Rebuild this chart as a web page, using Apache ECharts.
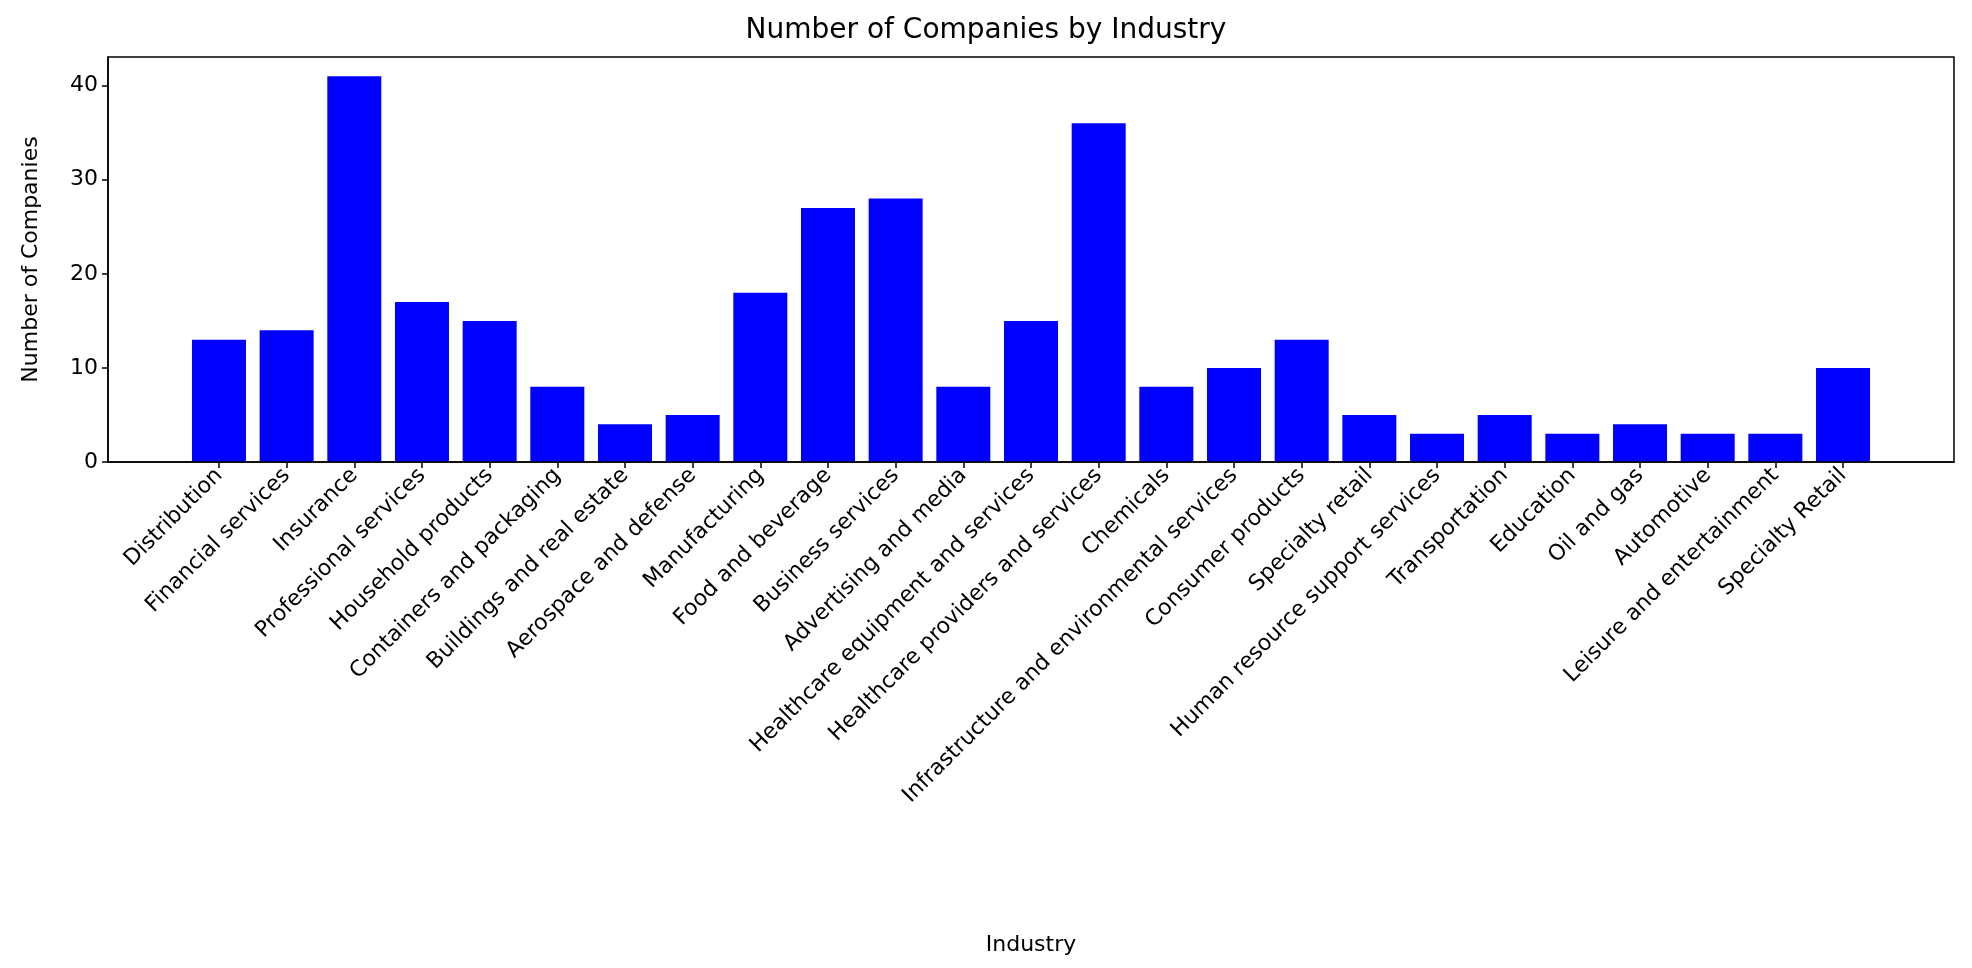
<!DOCTYPE html><html><head><meta charset="utf-8"><script src="https://cdn.jsdelivr.net/npm/echarts@6/dist/echarts.min.js"></script>
<style>html,body{margin:0;background:#fff}#c{width:1972px;height:968px}</style></head><body><div id="c"></div><script>
const categories=["Distribution","Financial services","Insurance","Professional services","Household products","Containers and packaging","Buildings and real estate","Aerospace and defense","Manufacturing","Food and beverage","Business services","Advertising and media","Healthcare equipment and services","Healthcare providers and services","Chemicals","Infrastructure and environmental services","Consumer products","Specialty retail","Human resource support services","Transportation","Education","Oil and gas","Automotive","Leisure and entertainment","Specialty Retail"];
const values=[13,14,41,17,15,8,4,5,18,27,28,8,15,36,8,10,13,5,3,5,3,4,3,3,10];
const yTicks=[0,10,20,30,40];
const F='DejaVu Sans';
const idx=categories.map((_,i)=>i);
const ch=echarts.init(document.getElementById('c'));
ch.setOption({
 animation:false,
 title:{text:'Number of Companies by Industry',left:'center',top:12,textStyle:{fontFamily:F,fontSize:28,fontWeight:'normal',color:'#000'}},
 grid:{left:108,right:18,top:57,bottom:506},
 xAxis:{type:'value',min:-1.64,max:categories.length-1+1.64,splitLine:{show:false},
  axisLine:{onZero:false,lineStyle:{color:'#000',width:1.5}},
  axisTick:{show:true,customValues:idx,length:6,lineStyle:{color:'#000',width:1.5}},
  axisLabel:{customValues:idx,rotate:45,fontFamily:F,fontSize:22,color:'#000',margin:10,formatter:v=>categories[Math.round(v)]},
  name:'Industry',nameLocation:'middle',nameGap:472,nameTextStyle:{fontFamily:F,fontSize:22,color:'#000'}},
 yAxis:{type:'value',min:0,max:43.05,splitLine:{show:false},
  axisLine:{show:true,onZero:false,lineStyle:{color:'#000',width:1.5}},
  axisTick:{show:true,customValues:yTicks,length:6,lineStyle:{color:'#000',width:1.5}},
  axisLabel:{customValues:yTicks,fontFamily:F,fontSize:22,color:'#000',margin:10},
  name:'Number of Companies',nameLocation:'middle',nameGap:66,nameTextStyle:{fontFamily:F,fontSize:22,color:'#000'}},
 series:[{type:'bar',data:values.map((v,i)=>[i,v]),barWidth:54,itemStyle:{color:'#0000ff'}}],
 graphic:[{type:'rect',shape:{x:108,y:57,width:1972-108-18,height:968-506-57},style:{fill:'none',stroke:'#000',lineWidth:1.5},z:100}]
});
</script></body></html>
